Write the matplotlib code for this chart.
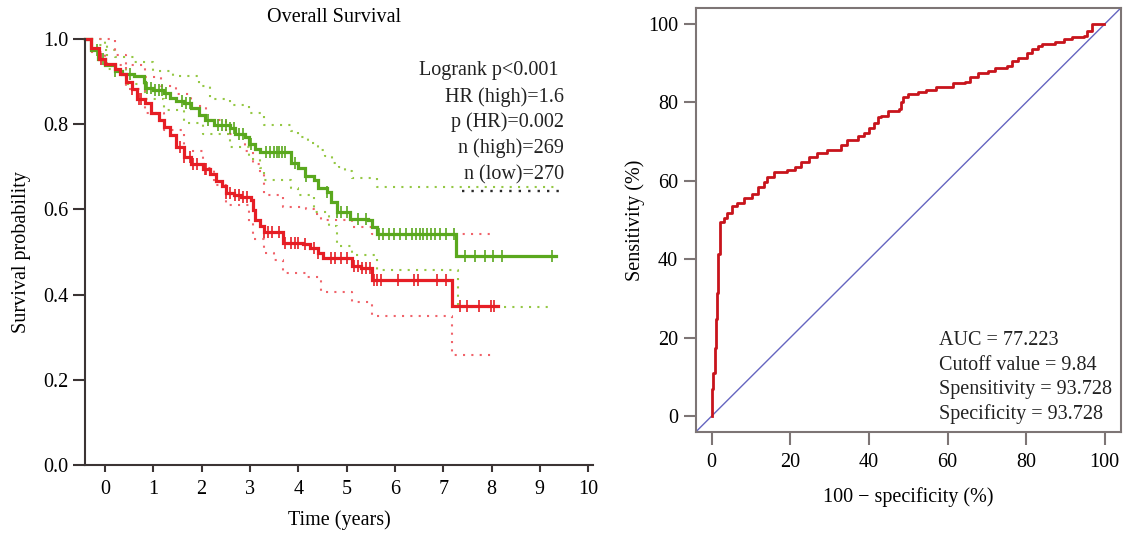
import numpy as np
import matplotlib
matplotlib.use("Agg")
import matplotlib.pyplot as plt

plt.rcParams['font.family'] = ['Liberation Serif', 'DejaVu Serif']

# ---------------- Kaplan-Meier data ----------------
green_t = [-0.42, -0.3, -0.15, 0.0, 0.2, 0.36, 0.6, 0.8, 0.83, 1.0, 1.23, 1.35, 1.47, 1.63, 1.79,
           1.94, 2.06, 2.26, 2.58, 2.7, 2.9, 2.98, 3.1, 3.21, 3.85, 4.0, 4.13, 4.33, 4.4, 4.6, 4.68,
           4.8, 5.08, 5.44, 5.52, 5.63, 7.26, 9.33]
green_s = [1.0, 0.975, 0.954, 0.938, 0.926, 0.918, 0.913, 0.898, 0.884, 0.88, 0.874, 0.862, 0.854,
           0.85, 0.838, 0.822, 0.81, 0.798, 0.79, 0.778, 0.77, 0.754, 0.742, 0.734, 0.71, 0.698,
           0.678, 0.67, 0.65, 0.642, 0.618, 0.594, 0.578, 0.574, 0.558, 0.542, 0.49, 0.49]

red_t = [-0.42, -0.28, -0.12, 0.0, 0.2, 0.32, 0.44, 0.56, 0.67, 0.83, 0.95, 1.11, 1.23, 1.35, 1.47,
         1.63, 1.79, 2.02, 2.18, 2.3, 2.42, 2.5, 2.66, 2.82, 3.02, 3.06, 3.1, 3.21, 3.29, 3.69,
         4.1, 4.25, 4.4, 4.52, 5.12, 5.3, 5.52, 7.18, 8.13]
red_s = [1.0, 0.978, 0.954, 0.942, 0.93, 0.918, 0.898, 0.882, 0.858, 0.85, 0.826, 0.81, 0.794,
         0.774, 0.746, 0.722, 0.706, 0.694, 0.682, 0.666, 0.654, 0.638, 0.634, 0.63, 0.622, 0.598,
         0.574, 0.562, 0.548, 0.522, 0.518, 0.51, 0.498, 0.486, 0.466, 0.462, 0.434, 0.374, 0.374]

green_up_t = [-0.3, 0.0, 0.2, 0.6, 1.0, 1.4, 1.94, 2.18, 2.58, 2.98, 3.29, 3.85, 4.0, 4.2, 4.4,
              4.56, 4.7, 4.85, 4.96, 5.12, 5.63, 9.4]
green_up_s = [1.0, 0.975, 0.958, 0.946, 0.926, 0.914, 0.89, 0.858, 0.846, 0.826, 0.798, 0.785,
              0.77, 0.755, 0.74, 0.726, 0.71, 0.7, 0.69, 0.674, 0.652, 0.652]
green_lo_t = [-0.3, 0.04, 0.44, 0.83, 1.23, 1.63, 2.02, 2.58, 2.98, 3.21, 3.29, 3.85, 4.0, 4.33,
              4.64, 4.8, 5.12, 5.63, 7.3, 9.17]
green_lo_s = [0.985, 0.93, 0.894, 0.858, 0.834, 0.802, 0.778, 0.746, 0.718, 0.698, 0.67, 0.65,
              0.634, 0.594, 0.562, 0.514, 0.494, 0.458, 0.372, 0.372]

red_up_t = [-0.3, 0.2, 0.44, 0.83, 1.15, 1.47, 1.79, 2.1, 2.5, 2.9, 3.06, 3.21, 3.29, 3.69, 4.17,
            4.33, 4.48, 5.12, 5.52, 7.98]
red_up_s = [1.0, 0.962, 0.938, 0.91, 0.89, 0.87, 0.842, 0.81, 0.778, 0.738, 0.706, 0.682, 0.634,
            0.606, 0.602, 0.59, 0.574, 0.558, 0.542, 0.542]
red_lo_t = [-0.3, 0.0, 0.44, 0.83, 1.23, 1.63, 2.02, 2.26, 2.5, 2.98, 3.06, 3.29, 3.5, 3.69, 4.17,
            4.48, 5.12, 5.52, 7.18, 8.02]
red_lo_s = [0.97, 0.94, 0.882, 0.826, 0.786, 0.738, 0.698, 0.658, 0.61, 0.57, 0.53, 0.498, 0.482,
            0.45, 0.442, 0.406, 0.382, 0.35, 0.258, 0.258]

overlay_t = [7.38, 9.4]
overlay_s = [0.644, 0.644]

green_censor = [-0.16, -0.04, 0.2, 0.52, 0.87, 0.95, 1.03, 1.11, 1.19, 1.27, 1.59, 1.67, 1.75, 2.14,
                2.34, 2.42, 2.5, 2.58, 2.66, 2.78, 2.86, 3.02, 3.33, 3.41, 3.49, 3.55, 3.61, 3.67,
                3.73, 3.93, 4.17, 4.6, 4.8, 4.88, 5.0, 5.24, 5.4, 5.67, 5.75, 5.87, 5.99, 6.11,
                6.23, 6.35, 6.43, 6.51, 6.59, 6.67, 6.75, 6.83, 6.94, 7.06, 7.22, 7.46, 7.66, 7.86,
                8.02, 8.21, 9.25]
red_censor = [-0.08, 0.56, 0.71, 0.75, 1.55, 1.63, 1.75, 1.83, 1.9, 2.06, 2.1, 2.5, 2.58, 2.7, 2.78,
              2.86, 2.94, 3.29, 3.37, 3.45, 3.61, 3.73, 3.85, 3.93, 4.0, 4.13, 4.33, 4.4, 4.68,
              4.76, 4.88, 5.0, 5.16, 5.24, 5.32, 5.4, 5.48, 5.56, 5.63, 5.71, 6.07, 6.39, 6.47,
              6.87, 7.06, 7.34, 7.5, 7.74, 7.98, 8.06]

km_text = ["Logrank p<0.001", "HR (high)=1.6", "p (HR)=0.002", "n (high)=269", "n (low)=270"]
km_xticks = list(range(0, 11))
km_yticks = [0.0, 0.2, 0.4, 0.6, 0.8, 1.0]

# ---------------- ROC data ----------------
roc_fpr = [0, 0, 0.43, 0.43, 0.85, 1.0, 1.3, 1.5, 2.0, 3.0, 3.8, 5.1, 6.4, 8.1, 10.2, 11.9, 13.2,
           14.1, 15.8, 19.2, 21.3, 22.6, 24.7, 26.9, 29.4, 32.8, 34.5, 37.1, 38.8, 40.1, 41.3,
           42.2, 43.1, 44.8, 47.7, 48.2, 48.6, 49.9, 52.4, 54.6, 57.1, 61.4, 64.4, 65.6, 67.8,
           70.3, 72.0, 75.0, 76.3, 78.0, 80.1, 81.4, 83.1, 84.0, 87.4, 89.5, 91.6, 94.6, 95.5,
           96.8, 99.7]
roc_tpr = [0, 7.0, 7.0, 10.9, 17.4, 24.8, 31.3, 41.3, 49.6, 50.5, 51.8, 53.5, 54.4, 55.7, 56.6,
           58.3, 59.6, 60.9, 62.2, 62.7, 63.5, 64.8, 66.1, 67.0, 67.9, 69.2, 70.5, 71.4, 72.2,
           73.5, 74.8, 76.2, 76.6, 77.9, 78.3, 80.1, 81.4, 82.2, 82.7, 83.1, 84.0, 84.9, 85.3,
           86.6, 87.5, 87.9, 88.8, 89.2, 90.5, 91.4, 92.7, 93.6, 94.4, 94.9, 95.3, 96.2, 96.6,
           97.0, 98.3, 99.9, 99.9]
roc_text = ["AUC = 77.223", "Cutoff value = 9.84", "Spensitivity = 93.728", "Specificity = 93.728"]
roc_ticks = [0, 20, 40, 60, 80, 100]

# ---------------- colours ----------------
RED = "#e61e25"
GREEN = "#5aa81e"
RED_CI = "#f0636a"
GREEN_CI = "#95c845"
AX1 = "#3b3434"
AX2 = "#7d7575"
FS = 14.5

fig = plt.figure(figsize=(11.25, 5.35), dpi=100)

# ======== Left: Kaplan-Meier ========
ax = fig.add_axes([85 / 1125, 70 / 535, 508 / 1125, 426 / 535])
ax.set_xlim(-0.414, 10.1)
ax.set_ylim(0, 1.0)

dot = (0, (1, 3))
for t, s, c in [(green_up_t, green_up_s, GREEN_CI), (green_lo_t, green_lo_s, GREEN_CI),
                (red_up_t, red_up_s, RED_CI), (red_lo_t, red_lo_s, RED_CI)]:
    ax.plot(t, s, drawstyle="steps-post", color=c, lw=1.5, linestyle=dot, clip_on=False)
ax.plot(overlay_t, overlay_s, color="#2a2a2a", lw=1.7, linestyle=dot)

for t, s, cens, c in [(green_t, green_s, green_censor, GREEN), (red_t, red_s, red_censor, RED)]:
    ax.plot(t, s, drawstyle="steps-post", color=c, lw=2.3, clip_on=False, solid_joinstyle="miter")
    tt = np.asarray(t)
    ss = np.asarray(s)
    idx = np.searchsorted(tt, np.asarray(cens), side="right") - 1
    ax.plot(cens, ss[idx], linestyle="none", marker="|", markersize=9, markeredgewidth=1.2,
            color=c)

for sp in ["top", "right"]:
    ax.spines[sp].set_visible(False)
for sp in ["left", "bottom"]:
    ax.spines[sp].set_color(AX1)
    ax.spines[sp].set_linewidth(1.5)
ax.spines["left"].set_bounds(0, 1.0)
ax.set_xticks(km_xticks)
ax.set_yticks(km_yticks)
ax.set_yticklabels([f"{v:.1f}" for v in km_yticks])
ax.tick_params(axis="y", length=9, width=1.5, color=AX1, pad=3, labelsize=FS)
ax.tick_params(axis="x", length=5, width=1.5, color=AX1, pad=6, labelsize=FS)
ax.set_xlabel("Time (years)", fontsize=FS, labelpad=8)
ax.set_ylabel("Survival probability", fontsize=FS, labelpad=9)
ax.set_title("Overall Survival", fontsize=FS, pad=12, x=0.49)

ys = [0.925, 0.864, 0.804, 0.744, 0.681]
xs = [9.38, 9.5, 9.5, 9.5, 9.5]
for s, x, y in zip(km_text, xs, ys):
    ax.text(x, y, s, ha="right", va="center", fontsize=FS, color="#222222")

# ======== Right: ROC ========
ax2 = fig.add_axes([696 / 1125, 103.3 / 535, 424.5 / 1125, 423.4 / 535])
ax2.set_xlim(-4, 104)
ax2.set_ylim(-4, 104)
ax2.plot([-4, 104], [-4, 104], color="#6565c0", lw=1.0)
ax2.plot(roc_fpr, roc_tpr, drawstyle="steps-post", color="#c8141c", lw=2.0)
for sp in ax2.spines.values():
    sp.set_color(AX2)
    sp.set_linewidth(1.5)
ax2.set_xticks(roc_ticks)
ax2.set_yticks(roc_ticks)
ax2.tick_params(axis="both", length=9, width=1.5, color=AX2, labelsize=FS)
ax2.tick_params(axis="y", pad=4)
ax2.tick_params(axis="x", pad=6)
ax2.set_xlabel("100 \u2212 specificity (%)", fontsize=FS, labelpad=11)
ax2.set_ylabel("Sensitivity (%)", fontsize=FS, labelpad=2)
for i, s in enumerate(roc_text):
    ax2.text(57.7, 19.3 - 6.3 * i, s, ha="left", va="center", fontsize=FS, color="#222222")

fig.savefig("out.png", dpi=100)
